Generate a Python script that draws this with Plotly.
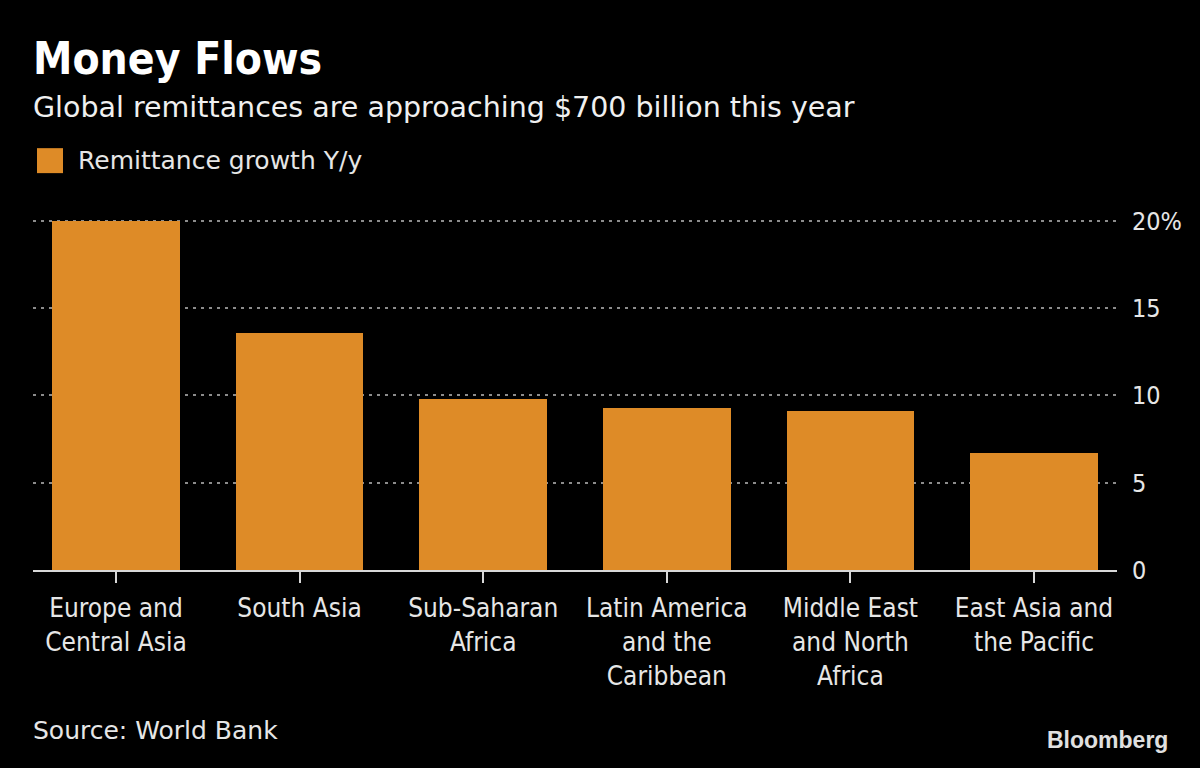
import plotly.graph_objects as go

# ---- data ----
categories = [
    "Europe and<br>Central Asia",
    "South Asia",
    "Sub-Saharan<br>Africa",
    "Latin America<br>and the<br>Caribbean",
    "Middle East<br>and North<br>Africa",
    "East Asia and<br>the Pacific",
]
growth = [20.0, 13.6, 9.8, 9.3, 9.1, 6.7]
y_tickvals = [0, 5, 10, 15, 20]
y_ticktext = ["0", "5", "10", "15", "20%"]

title = "Money Flows"
subtitle = "Global remittances are approaching $700 billion this year"
legend_label = "Remittance growth Y/y"
source = "Source: World Bank"

BAR = "#DE8B27"
FONT_C = "DejaVu Sans Condensed, DejaVu Sans, sans-serif"
FONT = "DejaVu Sans, sans-serif"

# plot area geometry (pixels)
W, H = 1200, 768
Y_MAX = 20.4
UNIT = 17.47            # pixels per percentage point
B = 570.3               # pixel row of 0
T = B - Y_MAX * UNIT    # top of plot area
L, R = 33, 1117
PH = B - T
PW = R - L


def py(p):
    return (B - p) / PH


def px(p):
    return (p - L) / PW


fig = go.Figure()
fig.add_trace(go.Bar(
    x=list(range(len(categories))),
    y=growth,
    marker=dict(color=BAR, line=dict(width=0)),
    width=0.695,
    showlegend=False,
    hoverinfo="y",
))

fig.update_layout(
    width=W, height=H,
    paper_bgcolor="black", plot_bgcolor="black",
    margin=dict(l=L, r=W - R, t=T, b=H - B, pad=0),
    font=dict(family=FONT_C, color="#E6E6E6", size=26),
    bargap=0,
    xaxis=dict(
        range=[-0.452, 5.452],
        tickmode="array",
        tickvals=list(range(len(categories))),
        ticktext=categories,
        showgrid=False,
        zeroline=False,
        showline=True, linecolor="#D8D8D8", linewidth=2,
        ticks="outside", ticklen=11, tickwidth=2, tickcolor="#D8D8D8",
        ticklabelstandoff=3,
        tickfont=dict(family=FONT_C, size=26, color="#E6E6E6"),
        fixedrange=True,
    ),
    yaxis=dict(
        range=[0, Y_MAX],
        side="right",
        tickmode="array",
        tickvals=y_tickvals,
        ticktext=y_ticktext,
        showgrid=True, gridcolor="#8C8C8C", gridwidth=2, griddash="3px,5px",
        zeroline=False,
        showline=False,
        ticks="",
        ticklabelstandoff=14,
        tickfont=dict(family=FONT_C, size=25, color="#E6E6E6"),
        fixedrange=True,
    ),
    shapes=[
        dict(type="rect", xref="paper", yref="paper",
             x0=px(37), x1=px(63), y0=py(173), y1=py(148),
             fillcolor=BAR, line=dict(width=0)),
    ],
    annotations=[
        dict(text=f"<b>{title}</b>", xref="paper", yref="paper",
             x=0, y=py(58), xanchor="left", yanchor="middle", xshift=-2,
             showarrow=False, font=dict(family=FONT_C, size=44, color="white")),
        dict(text=subtitle, xref="paper", yref="paper",
             x=0, y=py(107), xanchor="left", yanchor="middle", xshift=-2,
             showarrow=False, font=dict(family=FONT, size=28.5, color="#F0F0F0")),
        dict(text=legend_label, xref="paper", yref="paper",
             x=px(78), y=py(160), xanchor="left", yanchor="middle", xshift=-2,
             showarrow=False, font=dict(family=FONT, size=25, color="#E6E6E6")),
        dict(text=source, xref="paper", yref="paper",
             x=0, y=py(731), xanchor="left", yanchor="middle", xshift=-2,
             showarrow=False, font=dict(family=FONT, size=25, color="#E6E6E6")),
        dict(text="<b>Bloomberg</b>", xref="paper", yref="paper",
             x=px(1170), y=py(740), xanchor="right", yanchor="middle",
             showarrow=False, font=dict(family="Liberation Sans, Arial, sans-serif", size=23, color="#E0E0E0")),
    ],
)

fig.write_html("out.html", post_script="document.body.style.margin='0';",
               config={"displayModeBar": False})
